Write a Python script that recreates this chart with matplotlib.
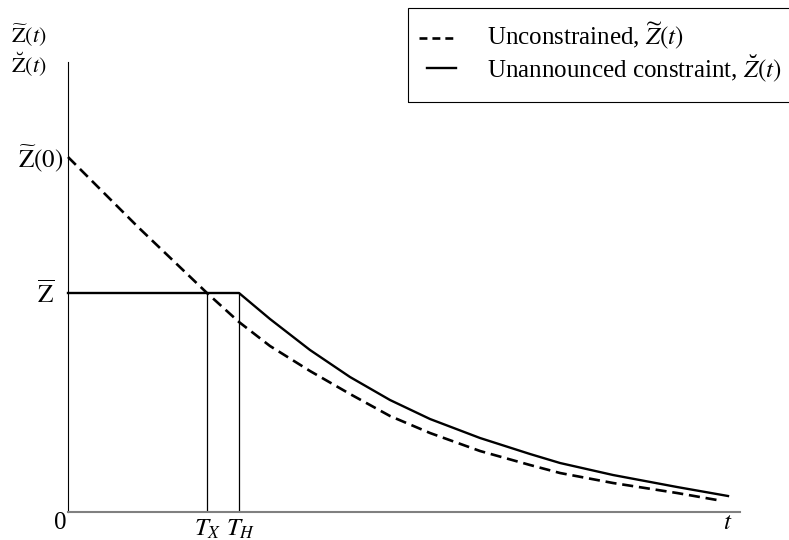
import matplotlib
matplotlib.use("Agg")
import matplotlib.pyplot as plt
from matplotlib.lines import Line2D
from matplotlib.patches import Rectangle

plt.rcParams['font.family'] = ['Liberation Serif', 'DejaVu Serif']
plt.rcParams['mathtext.fontset'] = 'stix'

# curves (t, value), axis runs 0..672 by 0..450
t_unc = [0, 70, 139, 171, 202, 242, 282, 322, 362, 412, 462, 492, 545, 609, 649]
z_unc = [355, 285, 219, 190, 166, 141, 118, 96, 79, 61, 47, 39, 29, 19, 12]

t_con = [0, 171, 202, 242, 282, 322, 362, 412, 462, 492, 545, 609, 660]
z_con = [219, 219, 193, 162, 135, 112, 93, 74, 58, 49, 37, 25, 16]

z_bar = 219
t_x = 139
t_h = 171

W, H = 789, 540
fig = plt.figure(figsize=(W / 100, H / 100), dpi=100)
ax = fig.add_axes([68 / W, 28 / H, 672 / W, 450 / H])
ax.set_xlim(0, 672)
ax.set_ylim(0, 450)
for s in ['top', 'right']:
    ax.spines[s].set_visible(False)
ax.spines['left'].set_linewidth(0.8)
ax.spines['bottom'].set_color('#808080')
ax.spines['bottom'].set_linewidth(1.5)
ax.set_xticks([])
ax.set_yticks([])

ax.plot(t_unc, z_unc, color='black', lw=1.9, dashes=(4.2, 2.2), clip_on=False)
ax.plot(t_con, z_con, color='black', lw=1.7, clip_on=False)
ax.plot([t_x, t_x], [0, z_bar], color='black', lw=0.9)
ax.plot([t_h, t_h], [0, z_bar], color='black', lw=0.9)


def px(x, y):
    return x / W, 1 - y / H


fs = 18
fig.text(*px(60, 523), '0', fontsize=fs, ha='center', va='center')
fig.text(*px(208, 529), r'$T_X$', fontsize=fs, ha='center', va='center')
fig.text(*px(241, 529), r'$T_H$', fontsize=fs, ha='center', va='center')
fig.text(*px(728, 523), r'$t$', fontsize=fs, ha='center', va='center')
fig.text(*px(11, 36), r'$\widetilde{\mathrm{Z}}(t)$', fontsize=16, ha='left', va='center')
fig.text(*px(11, 64), r'$\breve{\mathrm{Z}}(t)$', fontsize=16, ha='left', va='center')
fig.text(*px(63, 159), r'$\widetilde{\mathrm{Z}}(0)$', fontsize=fs, ha='right', va='center')
fig.text(*px(54, 294), r'$\overline{\mathrm{Z}}$', fontsize=fs, ha='right', va='center')

# legend box, cut at the right edge
fig.add_artist(Rectangle(px(408, 102), 400 / W, 94 / H, transform=fig.transFigure,
                         fill=False, edgecolor='black', lw=0.8))
fig.add_artist(Line2D([419 / W, 454 / W], [1 - 38 / H, 1 - 38 / H], transform=fig.transFigure,
                      color='black', lw=1.9, dashes=(3.0, 1.9)))
fig.add_artist(Line2D([427 / W, 456 / W], [1 - 68 / H, 1 - 68 / H], transform=fig.transFigure,
                      color='black', lw=1.7))
fig.text(*px(487, 36), r'Unconstrained, $\widetilde{Z}(t)$', fontsize=fs, ha='left', va='center')
fig.text(*px(487, 68), r'Unannounced constraint, $\breve{Z}(t)$', fontsize=fs, ha='left', va='center')

fig.savefig('out.png', dpi=100)
